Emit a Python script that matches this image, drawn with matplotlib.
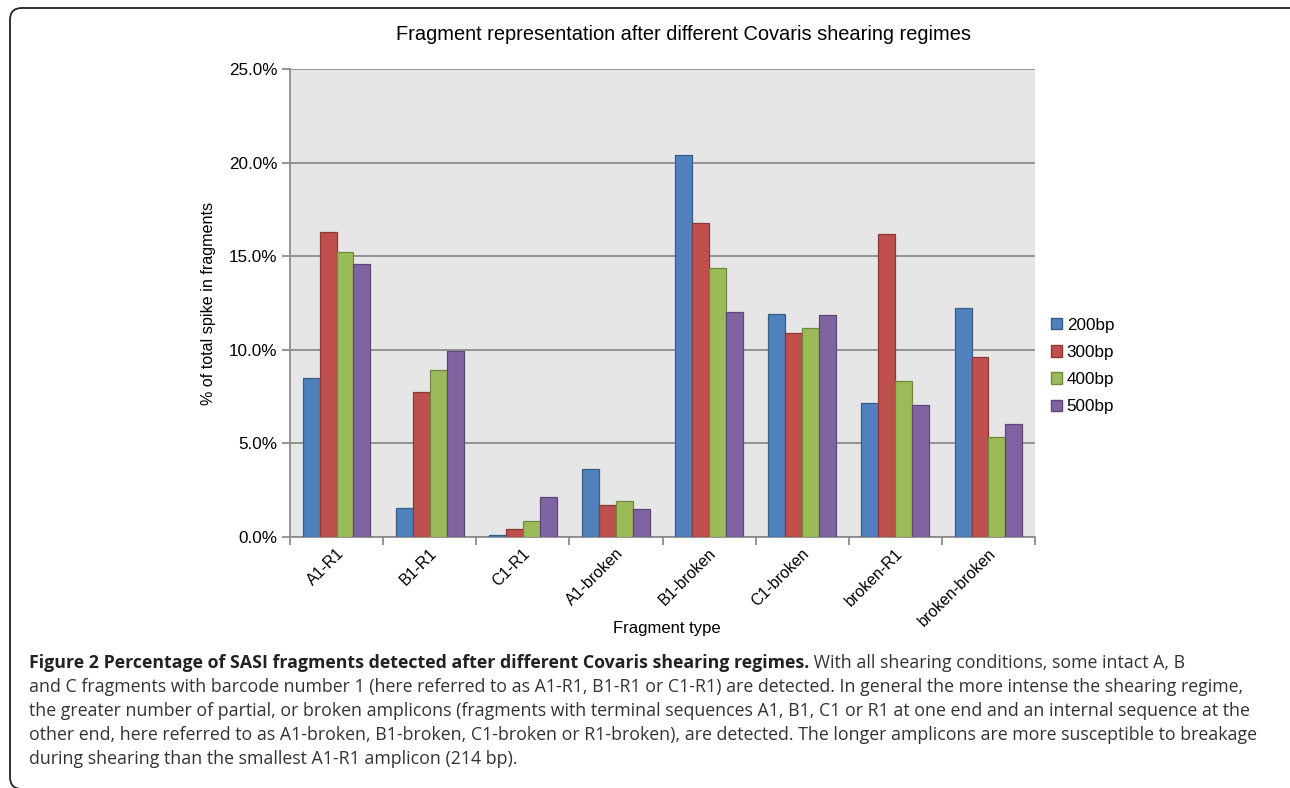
import numpy as np
import matplotlib
matplotlib.use("Agg")
import matplotlib.pyplot as plt
from matplotlib.patches import FancyBboxPatch, Patch
from matplotlib.ticker import FuncFormatter, MultipleLocator

categories = ["A1-R1", "B1-R1", "C1-R1", "A1-broken", "B1-broken",
              "C1-broken", "broken-R1", "broken-broken"]
series_names = ["200bp", "300bp", "400bp", "500bp"]
v200 = [8.5, 1.57, 0.1, 3.65, 20.4, 11.9, 7.18, 12.22]
v300 = [16.3, 7.73, 0.45, 1.7, 16.76, 10.88, 16.17, 9.63]
v400 = [15.2, 8.92, 0.84, 1.9, 14.35, 11.16, 8.35, 5.34]
v500 = [14.6, 9.94, 2.15, 1.5, 12.04, 11.86, 7.05, 6.04]
values = [v200, v300, v400, v500]

fills = ["#4f81bd", "#c0504d", "#9bbb59", "#8064a2"]
edges = ["#385d8a", "#8c3836", "#71893f", "#5c4776"]

title = "Fragment representation after different Covaris shearing regimes"
caption_bold = "Figure 2 Percentage of SASI fragments detected after different Covaris shearing regimes."
caption_lines = [
    " With all shearing conditions, some intact A, B",
    "and C fragments with barcode number 1 (here referred to as A1-R1, B1-R1 or C1-R1) are detected. In general the more intense the shearing regime,",
    "the greater number of partial, or broken amplicons (fragments with terminal sequences A1, B1, C1 or R1 at one end and an internal sequence at the",
    "other end, here referred to as A1-broken, B1-broken, C1-broken or R1-broken), are detected. The longer amplicons are more susceptible to breakage",
    "during shearing than the smallest A1-R1 amplicon (214 bp).",
]
# right ends of the full caption lines in the reference (px)
caption_ends = [1255, 1275, 1250]

plt.rcParams["font.family"] = ["Liberation Sans", "DejaVu Sans"]
W, H = 1290, 788
fig = plt.figure(figsize=(W / 100, H / 100), dpi=100)
ax = fig.add_axes([290 / W, 1 - 537 / H, (1035 - 290) / W, (537 - 69) / H])
ax.set_facecolor("#e6e6e6")

x = np.arange(len(categories))
bw = 1 / 5.5
for i, vals in enumerate(values):
    ax.bar(x + (i - 1.5) * bw, vals, width=bw, color=fills[i], edgecolor=edges[i],
           linewidth=0.9, label=series_names[i], zorder=3)

ax.set_xlim(-0.5, len(categories) - 0.5)
ax.set_ylim(0, 25)
ax.yaxis.set_major_locator(MultipleLocator(5))
ax.yaxis.set_major_formatter(FuncFormatter(lambda v, p: f"{v:.1f}%"))
ax.grid(axis="y", color="#8c8c8c", linewidth=1.3, zorder=1)
for s in ["top", "right"]:
    ax.spines[s].set_visible(False)
for s in ["left", "bottom"]:
    ax.spines[s].set_color("#8c8c8c")
    ax.spines[s].set_linewidth(1.3)
ax.tick_params(axis="y", length=6, color="#8c8c8c", width=1.3, labelsize=12.3, pad=3)

ax.set_xticks(x + 0.05)
ax.set_xticklabels(categories, rotation=45, ha="right", va="center",
                   rotation_mode="anchor", fontsize=11.4)
ax.tick_params(axis="x", which="major", length=0, pad=10)
ax.set_xticks(np.arange(-0.5, len(categories)), minor=True)
ax.tick_params(axis="x", which="minor", length=6, color="#8c8c8c", width=1.3)

ax.set_ylabel("% of total spike in fragments", fontsize=11.6, labelpad=9)
fig.text(667 / W, 1 - 629 / H, "Fragment type", ha="center", va="center", fontsize=12)
fig.text(683 / W, 1 - 35 / H, title, ha="center", va="center", fontsize=14.4)

handles = [Patch(facecolor=fills[i], edgecolor=edges[i], label=series_names[i])
           for i in range(4)]
fig.legend(handles=handles, loc="center left", bbox_to_anchor=(1036 / W, 1 - 366 / H),
           frameon=False, fontsize=12.3, handlelength=0.65, handleheight=0.65,
           handletextpad=0.25, labelspacing=0.72)

# caption
cap_font = ["Open Sans", "DejaVu Sans"]
cap_color = "#333333"
renderer = fig.canvas.get_renderer()
size = 12
ratios = []
for line, end in zip(caption_lines[1:4], caption_ends):
    probe = fig.text(0, 0, line, fontsize=size, family=cap_font)
    ratios.append((end - 29) / probe.get_window_extent(renderer).width)
    probe.remove()
size = size * min(ratios)

y0 = 663
t = fig.text(29 / W, 1 - y0 / H, caption_bold, fontsize=size, family=cap_font,
             weight="bold", va="center", color="#222222")
bx = t.get_window_extent(renderer).x1
fig.text(bx / W, 1 - y0 / H, caption_lines[0], fontsize=size, family=cap_font,
         va="center", color=cap_color)
for k, line in enumerate(caption_lines[1:]):
    fig.text(29 / W, 1 - (y0 + 24 * (k + 1)) / H, line, fontsize=size,
             family=cap_font, va="center", color=cap_color)

frame = FancyBboxPatch((10, -1), 1300, H - 8 + 1, boxstyle="round,pad=0,rounding_size=12",
                       transform=None, facecolor="none", edgecolor="#222222",
                       linewidth=1.3)
fig.patches.append(frame)

fig.savefig("out.png", dpi=100)
